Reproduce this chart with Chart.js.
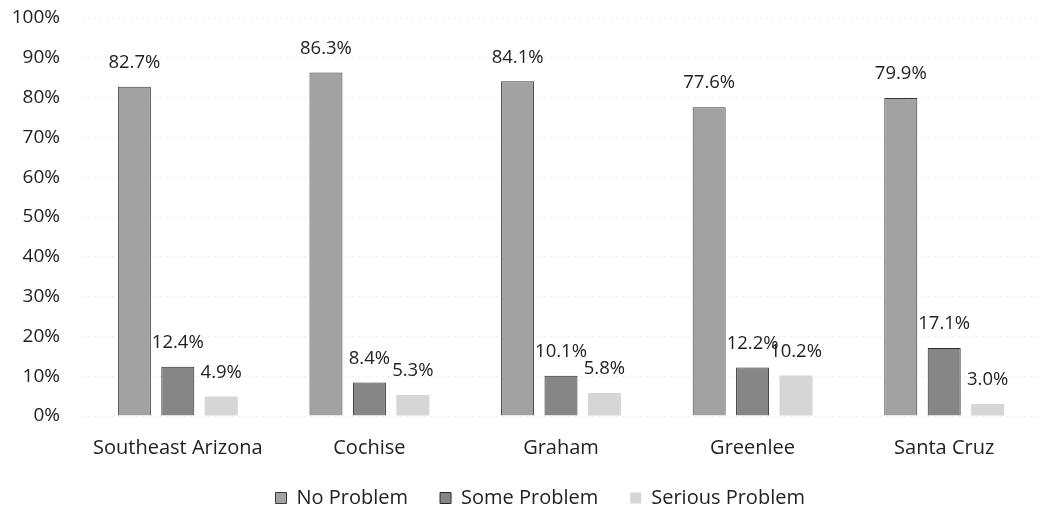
<!DOCTYPE html>
<html>
<head>
<meta charset="utf-8">
<script src="https://cdn.jsdelivr.net/npm/chart.js@4/dist/chart.umd.min.js"></script>
<style>
  html, body { margin: 0; padding: 0; background: #fff; }
  #wrap { width: 1040px; height: 512px; }
</style>
</head>
<body>
<div id="wrap"><canvas id="c" width="1040" height="512"></canvas></div>
<script>
const categories = ["Southeast Arizona", "Cochise", "Graham", "Greenlee", "Santa Cruz"];
const noProblem = [82.7, 86.3, 84.1, 77.6, 79.9];
const someProblem = [12.4, 8.4, 10.1, 12.2, 17.1];
const seriousProblem = [4.9, 5.3, 5.8, 10.2, 3.0];
const seriesNames = ["No Problem", "Some Problem", "Serious Problem"];
const yTicks = [0, 10, 20, 30, 40, 50, 60, 70, 80, 90, 100];

const FONT = "'Open Sans', sans-serif";
const GAP = '\u00A0\u00A0\u00A0\u00A0\u00A0';
const LAST_GAP = GAP + '\u00A0\u00A0\u00A0';

const valueLabels = {
  id: 'valueLabels',
  afterDatasetsDraw(chart) {
    const ctx = chart.ctx;
    ctx.save();
    ctx.font = "18.5px " + FONT;
    ctx.fillStyle = '#222';
    ctx.textAlign = 'center';
    ctx.textBaseline = 'middle';
    chart.data.datasets.forEach((ds, i) => {
      const meta = chart.getDatasetMeta(i);
      meta.data.forEach((bar, j) => {
        ctx.fillText(ds.data[j].toFixed(1) + '%', bar.x, bar.y - 24);
      });
    });
    ctx.restore();
  }
};

new Chart(document.getElementById('c'), {
  type: 'bar',
  data: {
    labels: categories,
    datasets: [
      { label: seriesNames[0], data: noProblem, backgroundColor: '#a2a2a2', borderColor: '#3a3a3a', borderWidth: 1 },
      { label: seriesNames[1], data: someProblem, backgroundColor: '#868686', borderColor: '#2a2a2a', borderWidth: 1 },
      { label: seriesNames[2], data: seriousProblem, backgroundColor: '#d6d6d6', borderColor: '#d6d6d6', borderWidth: 0 }
    ]
  },
  options: {
    responsive: false,
    animation: false,
    categoryPercentage: 0.68,
    barPercentage: 0.76,
    layout: { padding: { top: 18, right: 0, left: 0, bottom: -6 } },
    plugins: {
      legend: {
        position: 'bottom',
        fullSize: false,
        labels: {
          font: { family: FONT, size: 20 },
          color: '#222',
          boxWidth: 11,
          boxHeight: 11,
          padding: 6,
          generateLabels(chart) {
            const items = Chart.defaults.plugins.legend.labels.generateLabels(chart);
            items.forEach((it, i) => { it.text = it.text + (i === items.length - 1 ? LAST_GAP : GAP); });
            return items;
          }
        }
      },
      tooltip: { enabled: false }
    },
    scales: {
      x: {
        grid: { display: false },
        border: { display: false },
        ticks: { font: { family: FONT, size: 20 }, color: '#222', padding: 12 },
        afterFit(s) { s.height = 66; }
      },
      y: {
        min: 0, max: 100,
        afterBuildTicks(s) { s.ticks = yTicks.map(v => ({ value: v })); },
        grid: { color: '#eeeeee', lineWidth: 1, drawTicks: false },
        border: { display: false, dash: [2, 4] },
        ticks: {
          font: { family: FONT, size: 19 }, color: '#222', padding: 22,
          callback: v => v + '%'
        },
        afterFit(s) { s.width = 82; s.paddingTop = 0; s.paddingBottom = 0; }
      }
    }
  },
  plugins: [valueLabels]
});
</script>
</body>
</html>
